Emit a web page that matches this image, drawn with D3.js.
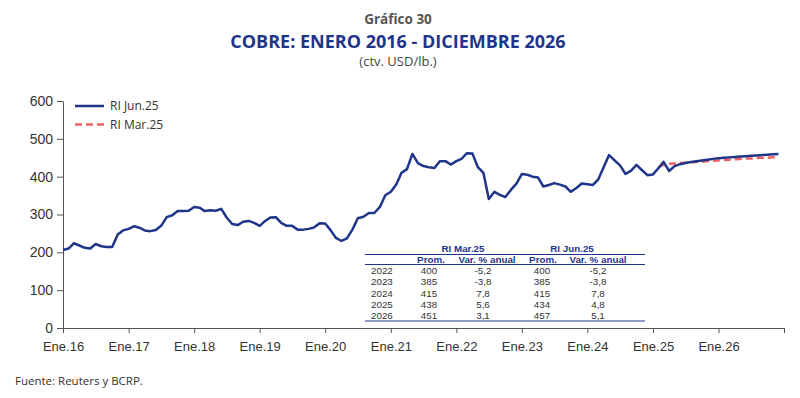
<!DOCTYPE html>
<html>
<head>
<meta charset="utf-8">
<script src="https://cdn.jsdelivr.net/npm/d3@7"></script>
<style>
    body { margin: 0; background: #fff; }
    svg { display: block; font-family: 'Open Sans', sans-serif; }
    .axis path, .axis line { stroke: #555; }
    .axis text { fill: #333; font-size: 13px; }
    .yaxis text { font-size: 14px; }
    .tabla text { font-family: 'Liberation Sans', Arial, sans-serif; font-size: 9.8px; }
</style>
</head>
<body>
<svg width="800" height="398"></svg>
<script>
/* globals d3 */

// RI Jun.25: promedio mensual ene.2016 - dic.2026 (ctv. USD/lb.)
const startJun = new Date(2016, 0, 1);
const riJun25 = [
    206, 210, 224, 218, 212, 210, 222, 216, 214, 214, 247, 258, // 2016
    262, 269, 265, 258, 256, 259, 270, 293, 298, 309, 309, 310, // 2017
    320, 318, 309, 311, 310, 315, 292, 275, 272, 281, 283, 278, // 2018
    270, 283, 292, 293, 278, 270, 270, 260, 260, 262, 266, 277, // 2019
    276, 258, 238, 230, 237, 260, 290, 294, 304, 304, 320, 351, // 2020
    360, 380, 410, 420, 460, 436, 428, 425, 423, 441, 441, 432, // 2021
    441, 448, 462, 461, 425, 410, 341, 360, 352, 346, 365, 381, // 2022
    407, 405, 400, 398, 374, 378, 383, 379, 374, 360, 370, 382, // 2023
    380, 378, 392, 425, 457, 443, 430, 407, 416, 431, 417, 404, // 2024
    406, 423, 439, 415, 428, 433, 436, 439, 441, 443, 445, 447, // 2025
    449, 450, 451, 452, 453, 454, 455, 456, 457, 458, 459, 460  // 2026
];

// RI Mar.25: proyeccion feb.2025 - dic.2026
const startMar = new Date(2025, 1, 1);
const riMar25 = [
    425, 431, 434, 435, 436, 437, 438, 439, 440, 441, 442,      // 2025
    443, 444, 445, 446, 447, 448, 448, 449, 450, 450, 451, 452  // 2026
];

// cuadro
const tableYears = ['2022', '2023', '2024', '2025', '2026'];
const promMar = ['400', '385', '415', '438', '451'];
const varMar = ['-5,2', '-3,8', '7,8', '5,6', '3,1'];
const promJun = ['400', '385', '415', '434', '457'];
const varJun = ['-5,2', '-3,8', '7,8', '4,8', '5,1'];

const yTicks = [0, 100, 200, 300, 400, 500, 600];
const BLUE = '#1f358a';
const RED = '#f06262';

const svg = d3.select('svg');

const x = d3.scaleTime()
.domain([new Date(2016, 0, 1), new Date(2027, 0, 1)])
.range([63, 784]);
const y = d3.scaleLinear()
.domain([0, 600])
.range([328, 101]);

const toPoints = (vals, start) => vals.map((v, i) => ({date: d3.timeMonth.offset(start, i), v: v}));
const jun = toPoints(riJun25, startJun);
const mar = toPoints(riMar25, startMar);

// titulos
svg.append('text')
.attr('x', 398).attr('y', 24)
.attr('text-anchor', 'middle')
.attr('font-size', 13.5).attr('font-weight', 'bold').attr('fill', '#555')
.text('Gráfico 30');
svg.append('text')
.attr('x', 398).attr('y', 48)
.attr('text-anchor', 'middle')
.attr('font-size', 18).attr('font-weight', 'bold').attr('fill', BLUE)
.text('COBRE: ENERO 2016 - DICIEMBRE 2026');
svg.append('text')
.attr('x', 398).attr('y', 66)
.attr('text-anchor', 'middle')
.attr('font-size', 13).attr('fill', '#444')
.text('(ctv. USD/lb.)');

// ejes
svg.append('g')
.attr('class', 'axis yaxis')
.attr('transform', 'translate(63,0)')
.call(d3.axisLeft(y).tickValues(yTicks).tickSize(6).tickSizeOuter(0).tickPadding(4));

const xTicks = d3.timeYear.range(new Date(2016, 0, 1), new Date(2027, 0, 2));
svg.append('g')
.attr('class', 'axis')
.attr('transform', 'translate(0,328)')
.call(
    d3.axisBottom(x)
    .tickValues(xTicks)
    .tickSize(5)
    .tickSizeOuter(0)
    .tickPadding(9)
    .tickFormat(d => d.getFullYear() < 2027 ? 'Ene.' + d3.timeFormat('%y')(d) : '')
);

// lineas
const line = d3.line()
.x(d => x(d.date))
.y(d => y(d.v));

svg.append('path')
.datum(mar)
.attr('d', line)
.attr('fill', 'none')
.attr('stroke', RED)
.attr('stroke-width', 2.5)
.attr('stroke-dasharray', '7,4');

svg.append('path')
.datum(jun)
.attr('d', line)
.attr('fill', 'none')
.attr('stroke', BLUE)
.attr('stroke-width', 2.5)
.attr('stroke-linejoin', 'round');

// leyenda
const legend = [
    {name: 'RI Jun.25', color: BLUE, dash: null},
    {name: 'RI Mar.25', color: RED, dash: '7,4'}
];
const lg = svg.append('g').selectAll('g')
.data(legend)
.enter().append('g')
.attr('transform', (d, i) => 'translate(75,' + (106 + i * 18.5) + ')');
lg.append('line')
.attr('x1', 0).attr('x2', 29)
.attr('stroke', d => d.color)
.attr('stroke-width', 2.5)
.attr('stroke-dasharray', d => d.dash);
lg.append('text')
.attr('x', 35).attr('y', 4)
.attr('font-size', 12).attr('fill', '#333')
.text(d => d.name);

// cuadro
const tbl = svg.append('g').attr('class', 'tabla');
const cols = [463, 572];
tbl.selectAll('text.grp')
.data(['RI Mar.25', 'RI Jun.25'])
.enter().append('text')
.attr('x', (d, i) => cols[i]).attr('y', 252)
.attr('text-anchor', 'middle')
.attr('font-weight', 'bold').attr('fill', BLUE)
.text(d => d);

const heads = [
    {t: 'Prom.', x: 431}, {t: 'Var. % anual', x: 487},
    {t: 'Prom.', x: 543}, {t: 'Var. % anual', x: 598}
];
tbl.selectAll('text.head')
.data(heads)
.enter().append('text')
.attr('x', d => d.x).attr('y', 263.2)
.attr('text-anchor', 'middle')
.attr('font-weight', 'bold').attr('fill', BLUE)
.text(d => d.t);

[254.5, 264.5, 321].forEach(yy => {
    tbl.append('line')
    .attr('x1', 365).attr('x2', 645)
    .attr('y1', yy).attr('y2', yy)
    .attr('stroke', BLUE).attr('stroke-width', 1);
});

const rows = tbl.selectAll('g.row')
.data(tableYears)
.enter().append('g')
.attr('transform', (d, i) => 'translate(0,' + (274 + i * 11.25) + ')')
.attr('fill', '#333');
rows.append('text').attr('x', 371).text(d => d);
rows.append('text').attr('x', 429).attr('text-anchor', 'middle').text((d, i) => promMar[i]);
rows.append('text').attr('x', 483).attr('text-anchor', 'middle').text((d, i) => varMar[i]);
rows.append('text').attr('x', 542).attr('text-anchor', 'middle').text((d, i) => promJun[i]);
rows.append('text').attr('x', 598).attr('text-anchor', 'middle').text((d, i) => varJun[i]);

// fuente
svg.append('text')
.attr('x', 15).attr('y', 385)
.attr('font-size', 11.5).attr('fill', '#333')
.text('Fuente: Reuters y BCRP.');
</script>
</body>
</html>
